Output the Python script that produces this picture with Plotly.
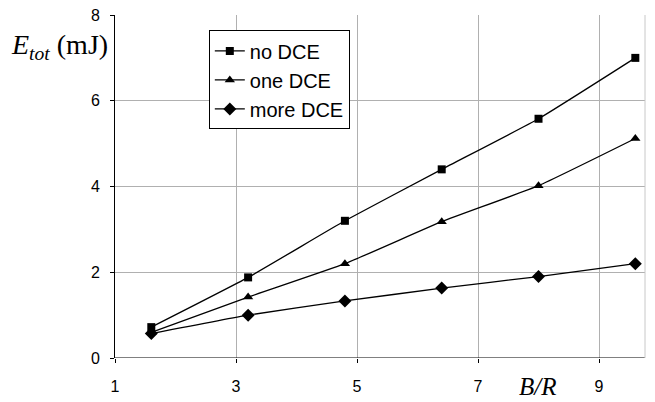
import plotly.graph_objects as go

x_vals = [1.6, 3.2, 4.8, 6.4, 8.0, 9.6]
no_dce = [0.72, 1.88, 3.2, 4.4, 5.58, 7.0]
one_dce = [0.6, 1.42, 2.2, 3.18, 4.02, 5.12]
more_dce = [0.57, 1.0, 1.33, 1.63, 1.9, 2.2]
series_names = ["no DCE", "one DCE", "more DCE"]
x_ticks = [1, 3, 5, 7, 9]
y_ticks = [0, 2, 4, 6, 8]

fig = go.Figure()
symbols = ["square", "triangle-up", "diamond"]
sizes = [8, 9, 10]
for name, ys, sym, sz in zip(series_names, [no_dce, one_dce, more_dce], symbols, sizes):
    fig.add_trace(go.Scatter(
        x=x_vals, y=ys, name=name, mode="lines+markers",
        line=dict(color="black", width=1.3, shape="spline", smoothing=0.4),
        marker=dict(symbol=sym, size=sz, color="black"),
    ))

fig.update_layout(
    width=655, height=402,
    margin=dict(l=115, r=10, t=7, b=43),
    plot_bgcolor="white", paper_bgcolor="white",
    font=dict(family="Liberation Sans, Arial", size=16, color="black"),
    showlegend=True,
    legend=dict(
        x=0.177, y=0.955, xanchor="left", yanchor="top",
        bordercolor="black", borderwidth=1, bgcolor="white",
        font=dict(family="Liberation Sans, Arial", size=20, color="black"),
        itemwidth=30, tracegroupgap=0,
    ),
    xaxis=dict(
        range=[1, 9.76], tickvals=x_ticks, ticks="outside", ticklen=4,
        tickcolor="black", showgrid=True, gridcolor="#b0b0b0", gridwidth=1,
        showline=False, zeroline=False, mirror=False,
        ticklabelstandoff=10, ticklabeloverflow="allow",
    ),
    yaxis=dict(
        range=[0, 8], tickvals=y_ticks, ticks="outside", ticklen=4,
        tickcolor="black", showgrid=True, gridcolor="#b0b0b0", gridwidth=1,
        showline=True, linecolor="black", linewidth=1, zeroline=False,
        ticklabelstandoff=7, ticklabeloverflow="allow",
    ),
    shapes=[
        dict(type="line", xref="paper", yref="y", x0=0, x1=1, y0=0, y1=0,
             line=dict(color="black", width=1)),
        dict(type="line", xref="paper", yref="paper", x0=1, x1=1, y0=0, y1=1,
             line=dict(color="#c8c8c8", width=1)),
    ],
    annotations=[
        dict(text="<i>E<sub>tot</sub></i> (mJ)", xref="paper", yref="paper",
             x=-0.104, y=0.907, xanchor="center", yanchor="middle", showarrow=False,
             font=dict(family="Liberation Serif, Times New Roman", size=28, color="black")),
        dict(text="<i>B/R</i>", xref="paper", yref="paper",
             x=0.798, y=-0.083, xanchor="center", yanchor="middle", showarrow=False,
             font=dict(family="Liberation Serif, Times New Roman", size=25, color="black")),
    ],
)

fig.write_html("out.html", config={"displayModeBar": False},
               post_script="document.body.style.margin='0';")
